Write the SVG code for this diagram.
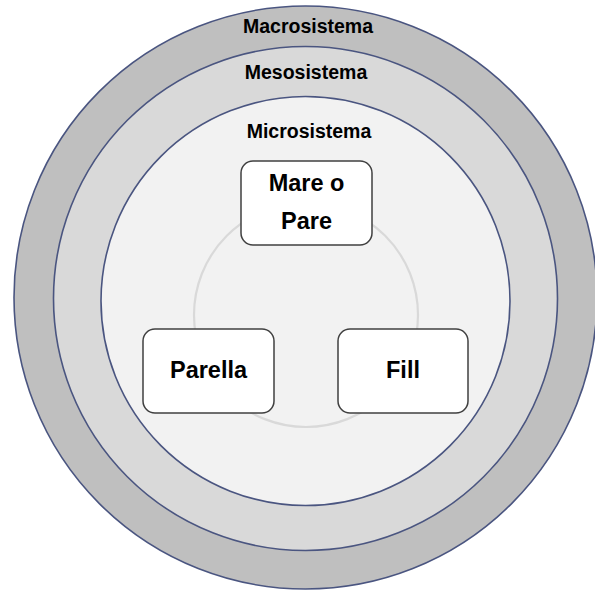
<svg xmlns="http://www.w3.org/2000/svg" width="595" height="591" viewBox="0 0 595 591">
<style>
.ring{stroke:#4a5580;stroke-width:1.6}
.lbl{font-family:"Liberation Sans",Arial,sans-serif;font-weight:bold;font-size:19.5px;fill:#000;text-anchor:middle}
.box{fill:#fff;stroke:#404040;stroke-width:1.5}
.bt{font-family:"Liberation Sans",Arial,sans-serif;font-weight:bold;font-size:23.5px;fill:#000;text-anchor:middle}
.conn{fill:none;stroke:#d9d9d9;stroke-width:2.2}
</style>
<rect width="595" height="591" fill="#fff"/>
<g id="macrosistema">
<circle class="ring" cx="305.5" cy="297.5" r="291.5" fill="#bfbfbf"/>
<text class="lbl" x="308" y="33">Macrosistema</text>
</g>
<g id="mesosistema">
<circle class="ring" cx="305.5" cy="298.5" r="252" fill="#d9d9d9"/>
<text class="lbl" x="306" y="79">Mesosistema</text>
</g>
<g id="microsistema">
<circle class="ring" cx="305.5" cy="301" r="204.5" fill="#f2f2f2"/>
<text class="lbl" x="309" y="138">Microsistema</text>
</g>
<g id="connectors">
<circle class="conn" cx="306" cy="315" r="112"/>
</g>
<g id="mare-o-pare">
<rect class="box" x="241" y="161" width="131" height="84" rx="12"/>
<text class="bt" x="306.5" y="191">Mare o</text>
<text class="bt" x="306.5" y="229">Pare</text>
</g>
<g id="parella">
<rect class="box" x="143" y="329" width="131" height="84" rx="12"/>
<text class="bt" x="208.5" y="378">Parella</text>
</g>
<g id="fill">
<rect class="box" x="338" y="329" width="130" height="84" rx="12"/>
<text class="bt" x="403" y="378">Fill</text>
</g>
</svg>
